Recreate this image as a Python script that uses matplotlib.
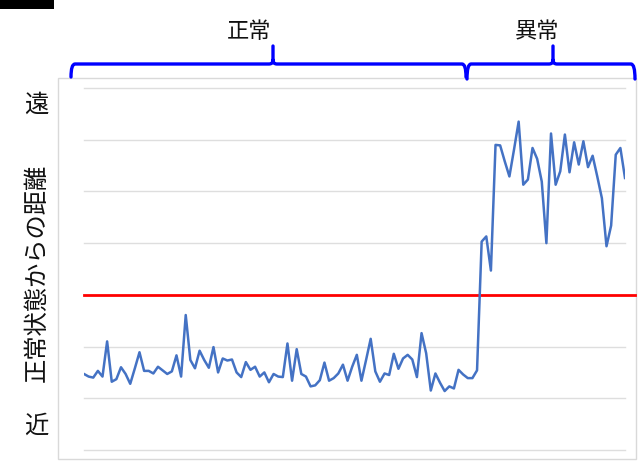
import numpy as np
import matplotlib
matplotlib.use("Agg")
import matplotlib.pyplot as plt
from matplotlib.path import Path
from matplotlib.patches import PathPatch, Rectangle

plt.rcParams['font.family'] = ['Noto Sans CJK JP', 'DejaVu Sans']

# distance from normal state
normal_vals = [1.47, 1.42, 1.40, 1.53, 1.42, 2.10, 1.32, 1.37, 1.60, 1.47,
               1.28, 1.58, 1.89, 1.53, 1.53, 1.48, 1.61, 1.54, 1.47, 1.52,
               1.83, 1.42, 2.61, 1.74, 1.58, 1.92, 1.74, 1.59, 1.99,
               1.50, 1.77, 1.73, 1.75, 1.50, 1.41, 1.70, 1.55, 1.61, 1.42,
               1.50, 1.31, 1.47, 1.42, 1.41, 2.06, 1.34, 1.95, 1.47, 1.42,
               1.23, 1.25, 1.35, 1.69, 1.34, 1.39, 1.48, 1.65,
               1.34, 1.61, 1.84, 1.34, 1.74, 2.15, 1.52, 1.32, 1.48, 1.45,
               1.86, 1.57, 1.77, 1.84, 1.75, 1.41, 2.26, 1.87, 1.15, 1.48,
               1.30, 1.14, 1.23, 1.19, 1.55, 1.46, 1.39, 1.39, 1.54]
abnormal_vals = [4.03, 4.13, 3.47, 5.90, 5.89, 5.58, 5.29, 5.81, 6.35, 5.13,
                 5.23, 5.84, 5.63, 5.19, 4.00, 6.12, 5.13, 5.39, 6.10, 5.37,
                 5.95, 5.52, 5.97, 5.47, 5.69, 5.29, 4.87, 3.94, 4.34, 5.71,
                 5.84, 5.26]
threshold = 3
grid_levels = list(range(0, 8))

ylabel = "正常状態からの距離"
far_label = "遠"
near_label = "近"
seg_labels = ["正常", "異常"]

values = np.array(normal_vals + abnormal_vals)
x = np.arange(len(values))

W, H = 640, 462
fig = plt.figure(figsize=(W / 100, H / 100), dpi=100)

# overlay in pixel coords for frame, braces and side texts
ov = fig.add_axes([0, 0, 1, 1], zorder=0)
ov.set_xlim(0, W)
ov.set_ylim(H, 0)
ov.axis('off')

ov.add_patch(Rectangle((58, 78), 578, 381, fill=False, edgecolor='#d9d9d9', lw=1))
ov.add_patch(Rectangle((0, 0), 54, 8.5, color='black', lw=0))


def brace(x0, x1, xt, y=64, yb=77, ytop=46, r=4):
    verts = [(x0, yb), (x0, y), (x0 + r, y), (xt - r, y), (xt, y), (xt, y - r), (xt, ytop),
             (xt, y - r), (xt, y), (xt + r, y), (x1 - r, y), (x1, y), (x1, yb)]
    codes = [Path.MOVETO, Path.CURVE3, Path.CURVE3, Path.LINETO, Path.CURVE3, Path.CURVE3,
             Path.LINETO, Path.MOVETO, Path.CURVE3, Path.CURVE3, Path.LINETO,
             Path.CURVE3, Path.CURVE3]
    ov.add_patch(PathPatch(Path(verts, codes), fill=False, edgecolor='#0000ff',
                           lw=2.4, capstyle='round', joinstyle='round'))


brace(71, 466, 273)
brace(467, 635, 553, yb=79)
ov.text(249, 31, seg_labels[0], fontsize=16, ha='center', va='center', color='#111111')
ov.text(537, 32, seg_labels[1], fontsize=16, ha='center', va='center', color='#111111')

ov.text(36, 105, far_label, fontsize=17.5, ha='center', va='center', color='#111111')
ov.text(36, 426, near_label, fontsize=17.5, ha='center', va='center', color='#111111')
ov.text(37, 273, ylabel, fontsize=17.5, rotation=90, ha='center', va='center', color='#111111')

# main plot area
ax = fig.add_axes([84 / W, 1 - 450 / H, (625 - 84) / W, (450 - 88) / H], zorder=1)
ax.set_facecolor('none')
ax.set_xlim(0, len(values) - 1)
ax.set_ylim(grid_levels[0], grid_levels[-1])
for g in grid_levels:
    ax.axhline(g, color='#dedede', lw=1, zorder=1, clip_on=False)
ax.axhline(threshold, xmin=0, xmax=(635 - 84) / (625 - 84), color='#ff0000', lw=2,
           zorder=2, clip_on=False)
ax.plot(x, values, color='#4472c4', lw=1.8, zorder=3)
for s in ax.spines.values():
    s.set_visible(False)
ax.set_xticks([])
ax.set_yticks([])

fig.savefig("out.png", dpi=100)
